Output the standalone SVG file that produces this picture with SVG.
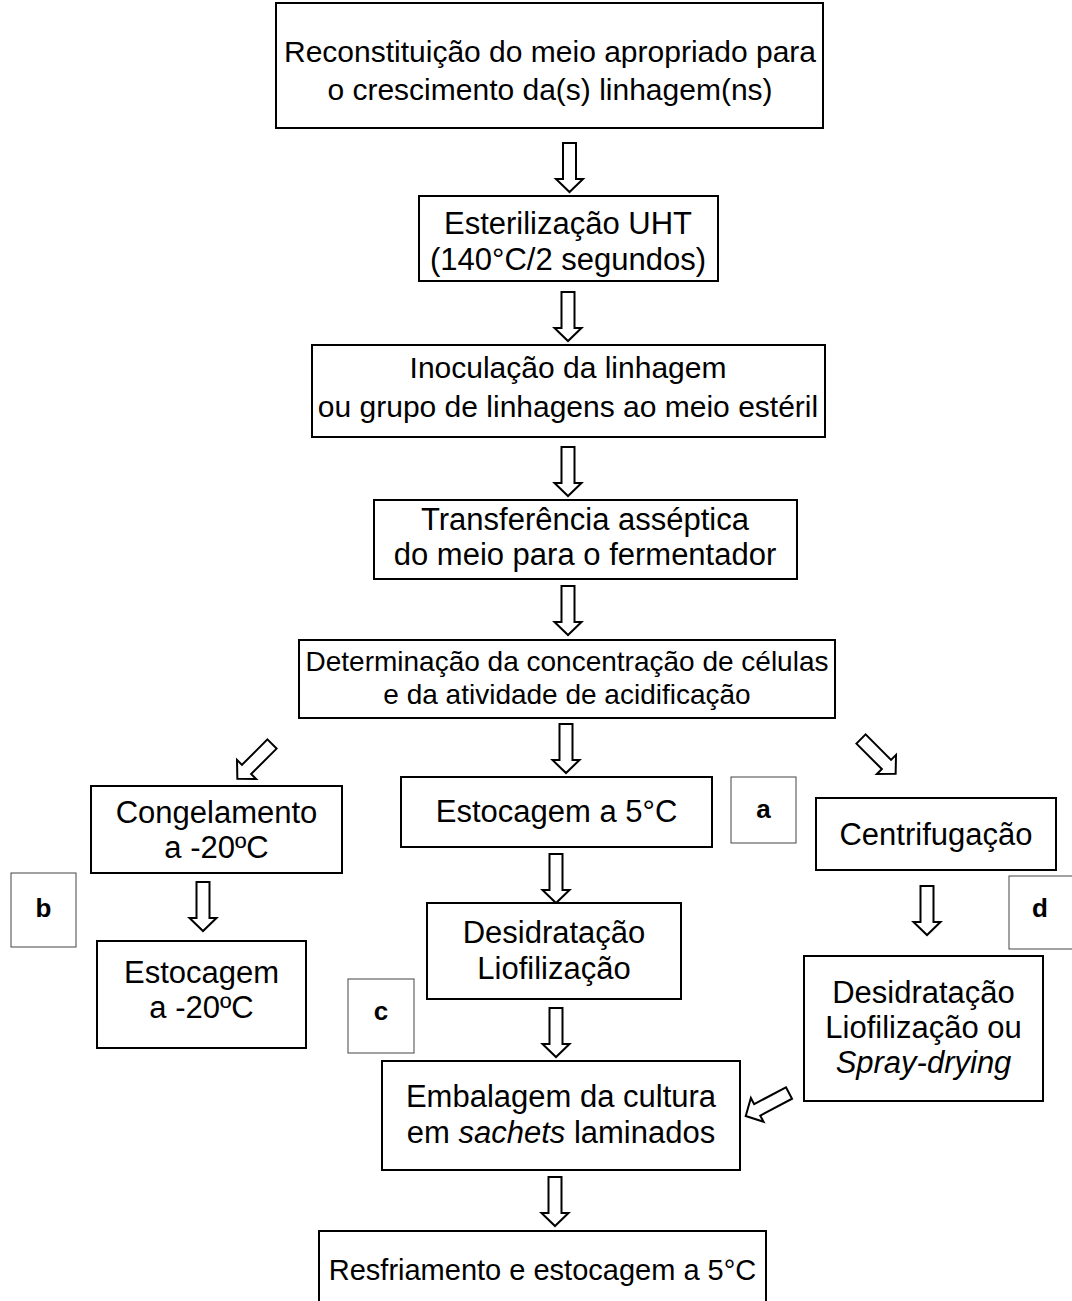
<svg xmlns="http://www.w3.org/2000/svg" width="1072" height="1301" viewBox="0 0 1072 1301">
<style>
.box{fill:#fff;stroke:#000;stroke-width:2}
.lab{fill:#fff;stroke:#444;stroke-width:1}
.t{font-family:"Liberation Sans",Arial,sans-serif;font-size:31px;fill:#000;text-anchor:middle}
.b{font-family:"Liberation Sans",Arial,sans-serif;font-size:26px;font-weight:bold;fill:#000;text-anchor:middle}
.arr{fill:#fff;stroke:#000;stroke-width:2;stroke-linejoin:miter}
</style>
<defs>
<path id="ar" class="arr" d="M -6.5 0 L 6.5 0 L 6.5 36 L 13.5 36 L 0 49 L -13.5 36 L -6.5 36 Z"/>
</defs>
<rect width="1072" height="1301" fill="#fff"/>
<g id="connectors">
<use href="#ar" transform="translate(569.5,143)"/>
<use href="#ar" transform="translate(568,292)"/>
<use href="#ar" transform="translate(568,447)"/>
<use href="#ar" transform="translate(568,586)"/>
<use href="#ar" transform="translate(566,724)"/>
<use href="#ar" transform="translate(556,854)"/>
<use href="#ar" transform="translate(556,1008)"/>
<use href="#ar" transform="translate(555,1177)"/>
<use href="#ar" transform="translate(203,882)"/>
<use href="#ar" transform="translate(927,886)"/>
<use href="#ar" transform="translate(272,744) rotate(45)"/>
<use href="#ar" transform="translate(861,739) rotate(-45)"/>
<use href="#ar" transform="translate(789,1093) rotate(62)"/>
</g>
<g id="n1"><rect class="box" x="276" y="3" width="547" height="125"/>
<text class="t" style="font-size:30px" x="550" y="62">Reconstituição do meio apropriado para</text>
<text class="t" style="font-size:30px" x="550" y="100">o crescimento da(s) linhagem(ns)</text></g>
<g id="n2"><rect class="box" x="419" y="196" width="299" height="85"/>
<text class="t" x="568" y="234">Esterilização UHT</text>
<text class="t" x="568" y="270">(140°C/2 segundos)</text></g>
<g id="n3"><rect class="box" x="312" y="345" width="513" height="92"/>
<text class="t" style="font-size:30px" x="568" y="378">Inoculação da linhagem</text>
<text class="t" style="font-size:30px" x="568" y="417">ou grupo de linhagens ao meio estéril</text></g>
<g id="n4"><rect class="box" x="374" y="500" width="423" height="79"/>
<text class="t" x="585" y="530">Transferência asséptica</text>
<text class="t" x="585" y="565">do meio para o fermentador</text></g>
<g id="n5"><rect class="box" x="299" y="640" width="536" height="78"/>
<text class="t" style="font-size:28px" x="567" y="671">Determinação da concentração de células</text>
<text class="t" style="font-size:28px" x="567" y="704">e da atividade de acidificação</text></g>
<g id="n6"><rect class="box" x="91" y="786" width="251" height="87"/>
<text class="t" x="216.5" y="823">Congelamento</text>
<text class="t" x="216.5" y="858">a -20ºC</text></g>
<g id="n7"><rect class="box" x="97" y="941" width="209" height="107"/>
<text class="t" x="201.5" y="983">Estocagem</text>
<text class="t" x="201.5" y="1018">a -20ºC</text></g>
<g id="n8"><rect class="box" x="401" y="777" width="311" height="70"/>
<text class="t" x="556.5" y="822">Estocagem a 5°C</text></g>
<g id="n9"><rect class="box" x="427" y="903" width="254" height="96"/>
<text class="t" x="554" y="943">Desidratação</text>
<text class="t" x="554" y="979">Liofilização</text></g>
<g id="n10"><rect class="box" x="816" y="798" width="240" height="72"/>
<text class="t" x="936" y="845">Centrifugação</text></g>
<g id="n11"><rect class="box" x="804" y="956" width="239" height="145"/>
<text class="t" x="923.5" y="1003">Desidratação</text>
<text class="t" x="923.5" y="1038">Liofilização ou</text>
<text class="t" x="923.5" y="1073" font-style="italic">Spray-drying</text></g>
<g id="n12"><rect class="box" x="382" y="1061" width="358" height="109"/>
<text class="t" x="561" y="1107">Embalagem da cultura</text>
<text class="t" x="561" y="1143">em <tspan font-style="italic">sachets</tspan> laminados</text></g>
<g id="n13"><rect class="box" x="319" y="1231" width="447" height="80"/>
<text class="t" style="font-size:29px" x="542.5" y="1280">Resfriamento e estocagem a 5°C</text></g>
<g id="la"><rect class="lab" x="731" y="777" width="65" height="66"/><text class="b" x="763.5" y="818">a</text></g>
<g id="lb"><rect class="lab" x="11" y="873" width="65" height="74"/><text class="b" x="43.5" y="917">b</text></g>
<g id="lc"><rect class="lab" x="348" y="979" width="66" height="74"/><text class="b" x="381" y="1020">c</text></g>
<g id="ld"><rect class="lab" x="1009" y="876" width="70" height="73"/><text class="b" x="1040" y="917">d</text></g>
</svg>
